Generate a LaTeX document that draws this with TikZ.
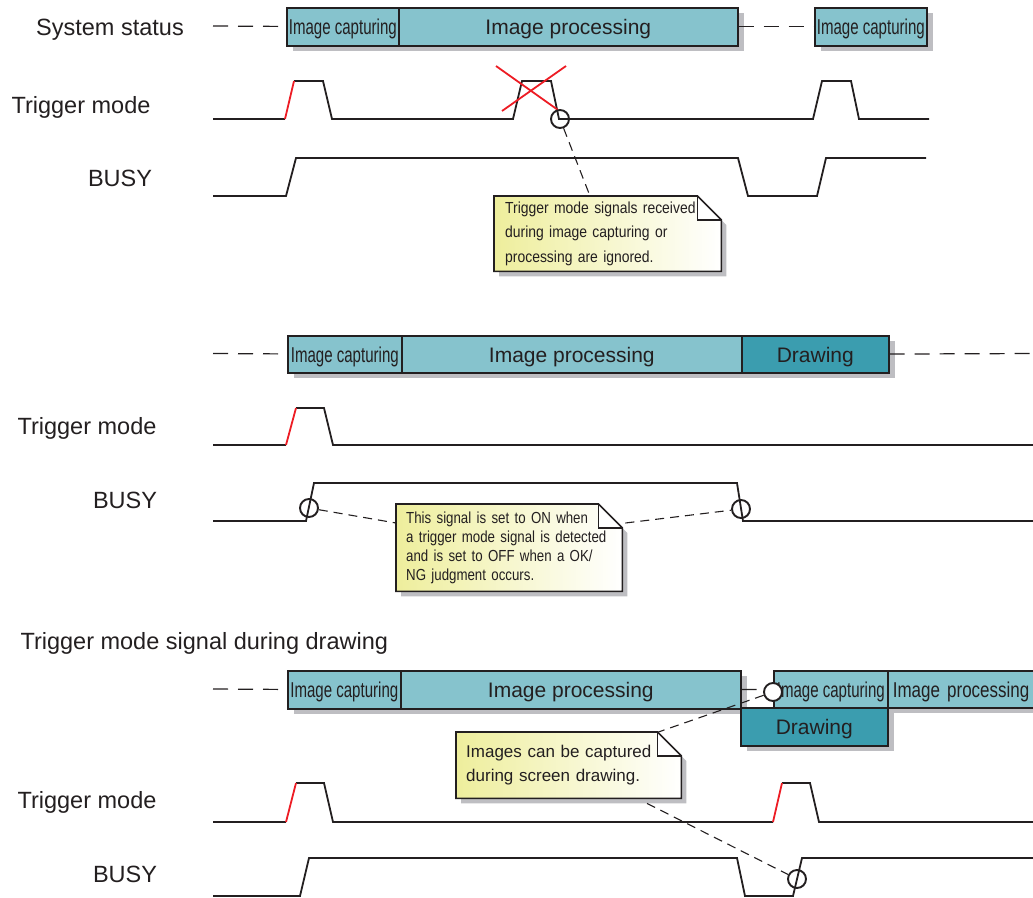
\documentclass[tikz,border=0pt]{standalone}
\usepackage{fontspec}
\setmainfont{Liberation Sans}
\newfontfamily\narrowsans[FakeStretch=0.7]{Liberation Sans}
\newfontfamily\midsans[FakeStretch=0.79]{Liberation Sans}
\newfontfamily\notesans[FakeStretch=0.87]{Liberation Sans}
\newfontfamily\notenarrow[FakeStretch=0.83]{Liberation Sans}
\usetikzlibrary{calc,positioning,shadows,backgrounds}
\hyphenpenalty=10000
\definecolor{tdink}{HTML}{231F20}
\definecolor{tdlight}{HTML}{86C3CD}
\definecolor{tddark}{HTML}{3B9DAF}
\definecolor{tdshadow}{HTML}{BEBEC2}
\definecolor{tdred}{HTML}{ED1C24}
\definecolor{tdnote}{HTML}{EEEE9C}
\tikzset{
  rowlabel/.style={anchor=base,text=tdink,font=\fontsize{23.5}{28}\selectfont},
  statebox/.style={draw=tdink,line width=1.6pt,fill=tdlight,anchor=north west,inner sep=0pt,
    minimum height=38pt,text=tdink,text height=15.5pt,text depth=0pt,
    font=\fontsize{21}{25}\selectfont,
    drop shadow={shadow xshift=6pt,shadow yshift=-5pt,fill=tdshadow,opacity=1}},
  statenarrow/.style={statebox,font=\narrowsans\fontsize{21.5}{25}\selectfont},
  statedraw/.style={statebox,fill=tddark},
  sig/.style={draw=tdink,line width=1.8pt,line join=miter},
  sigred/.style={draw=tdred,line width=1.8pt},
  crossout/.style={draw=tdred,line width=1.8pt},
  edgemark/.style={circle,draw=tdink,line width=1.9pt,minimum size=18pt,inner sep=0pt},
  leader/.style={draw=tdink,line width=1.1pt,dash pattern=on 9pt off 6pt},
  statusdash/.style={draw=tdink,line width=1.2pt,dash pattern=on 15pt off 10pt},
  notetext/.style={anchor=north west,align=left,text=tdink,inner ysep=0pt},
  noteline/.style={draw=tdink,line width=1.6pt,line join=miter},
}
% paper with dog-ear behind a note node
\newcommand{\notepaper}[1]{%
  \begin{scope}[on background layer]
    \fill[tdshadow] ($(#1.north west)+(5,5)$) -- ($(#1.north east)+(-19,5)$)
      -- ($(#1.north east)+(5,29)$) -- ($(#1.south east)+(5,5)$) -- ($(#1.south west)+(5,5)$) -- cycle;
    \shade[left color=tdnote,right color=white] (#1.north west) -- ($(#1.north east)+(-24,0)$)
      -- ($(#1.north east)+(0,24)$) -- (#1.south east) -- (#1.south west) -- cycle;
    \fill[white] ($(#1.north east)+(-24,0)$) -- ($(#1.north east)+(-24,24)$) -- ($(#1.north east)+(0,24)$) -- cycle;
    \draw[noteline] (#1.north west) -- ($(#1.north east)+(-24,0)$)
      -- ($(#1.north east)+(0,24)$) -- (#1.south east) -- (#1.south west) -- cycle;
    \draw[noteline] ($(#1.north east)+(-24,0)$) -- ($(#1.north east)+(-24,24)$) -- ($(#1.north east)+(0,24)$);
  \end{scope}}

\begin{document}
\begin{tikzpicture}[x=1pt,y=-1pt]
  \useasboundingbox (0,0) rectangle (1033,897);
  \clip (0,0) rectangle (1033,897);

  % labels
  \node[rowlabel] (lstat) at (110,35) {System status};
  \foreach \n/\x/\y/\t in {trig1/81/113/Trigger mode,busy1/120/186/BUSY,trig2/87/434/Trigger mode,
      busy2/125/508/BUSY,trig3/87/808/Trigger mode,busy3/125/882/BUSY}
    {\node[rowlabel] (l\n) at (\x,\y) {\t};}
  \node[rowlabel,anchor=base west] (ltitle) at (17,649) {Trigger mode signal during drawing};

  % status bars
  \node[statenarrow,minimum width=112pt] (cap1) at (286,7) {Image capturing};
  \node[statebox,minimum width=339pt] (proc1) at (398,7) {Image processing};
  \node[statenarrow,minimum width=112pt] (cap1b) at (814,7) {Image capturing};
  \draw[statusdash] (213,26) -- (cap1);
  \draw[statusdash] (proc1) -- (cap1b);

  \node[statenarrow,minimum width=114pt,minimum height=37pt] (cap2) at (287,335) {Image capturing};
  \node[statebox,minimum width=340pt,minimum height=37pt] (proc2) at (401,335) {Image processing};
  \node[statedraw,minimum width=147pt,minimum height=37pt] (draw2) at (741,335) {Drawing};
  \draw[statusdash] (213,353.5) -- (cap2);
  \draw[statusdash] (draw2) -- (1040,353.5);

  \node[statenarrow,minimum width=113pt] (cap3) at (287,670) {Image capturing};
  \node[statebox,minimum width=340pt] (proc3) at (400,670) {Image processing};
  \node[statenarrow,minimum width=114pt,minimum height=37pt] (cap3b) at (773,670) {Image capturing};
  \node[statebox,minimum width=160pt,minimum height=37pt,text width=150pt,align=left,
    font=\midsans\fontsize{21.5}{25}\selectfont] (proc3b) at (887,670) {Image processing};
  \node[statedraw,minimum width=147pt] (draw3) at (740,707) {Drawing};
  \draw[statusdash] (213,689) -- (cap3);
  \draw[statusdash] (proc3) -- (cap3b);

  % signals
  \draw[sig] (213,119) -- (285,119);
  \draw[sig] (294,81) -- (323,81) -- (332,119) -- (513,119) -- (522,81) -- (551,81) -- (559,119)
    -- (813,119) -- (822,81) -- (851,81) -- (859,119) -- (929,119);
  \draw[sigred] (285,119) -- (294,81);
  \draw[crossout] (496,66) -- (558,110);
  \draw[crossout] (566,66) -- (502,111);
  \draw[sig] (213,196) -- (286,196) -- (296,158) -- (738,158) -- (748,196) -- (817,196) -- (826,158) -- (926,158);

  \draw[sig] (213,445) -- (286,445);
  \draw[sig] (296,408) -- (324,408) -- (333,445) -- (1040,445);
  \draw[sigred] (286,445) -- (296,408);
  \draw[sig] (213,521) -- (306,521) -- (314,483) -- (737,483) -- (743,521) -- (1040,521);

  \draw[sig] (213,822) -- (286,822);
  \draw[sig] (296,783) -- (324,783) -- (333,822) -- (773,822);
  \draw[sig] (782,783) -- (810,783) -- (819,822) -- (1040,822);
  \draw[sigred] (286,822) -- (296,783);
  \draw[sigred] (773,822) -- (782,783);
  \draw[sig] (213,896) -- (300,896) -- (309,858) -- (737,858) -- (745,896) -- (793,896) -- (802,858) -- (1040,858);

  % edge marks
  \foreach \n/\x/\y in {1/560/119,2/309/508,3/741/509,5/797/879}
    {\node[edgemark] (m\n) at (\x,\y) {};}
  \node[edgemark,fill=white] (m4) at (773,692) {};

  % notes
  \node[notetext,text width=205pt,inner xsep=11pt,minimum height=75pt,
    font=\notesans\fontsize{16}{24.5}\selectfont] (n1) at (494,196)
    {Trigger mode signals received\\during image capturing or\\processing are ignored.};
  \notepaper{n1}
  \node[notetext,text width=206pt,inner xsep=10pt,minimum height=87pt,
    font=\notenarrow\fontsize{16}{19}\selectfont] (n2) at (396,504)
    {This signal is set to ON when\\a trigger mode signal is detected\\and is set to OFF when a OK/\\NG judgment occurs.};
  \notepaper{n2}
  \node[notetext,text width=205pt,inner xsep=10pt,minimum height=66pt,
    font=\fontsize{17}{24}\selectfont] (n3) at (456,732)
    {Images can be captured\\during screen drawing.};
  \notepaper{n3}

  % leaders
  \draw[leader] (m1) -- ($(n1.north west)+(96,0)$);
  \draw[leader] (m2) -- ($(n2.north west)+(0,19)$);
  \draw[leader] ($(n2.north east)+(3,19)$) -- (m3);
  \draw[leader] (m4) -- ($(n3.north east)+(-23,0)$);
  \draw[leader] ($(n3.south west)+(191,5)$) -- (m5);
\end{tikzpicture}
\end{document}
